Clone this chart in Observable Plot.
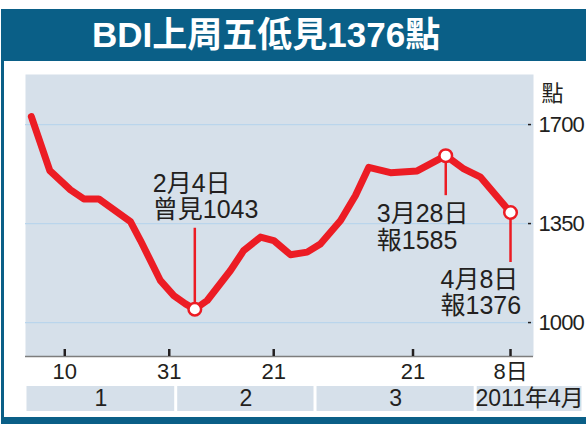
<!DOCTYPE html>
<html><head><meta charset="utf-8">
<script src="https://cdn.jsdelivr.net/npm/d3@7"></script>
<script src="https://cdn.jsdelivr.net/npm/@observablehq/plot@0.6"></script>
<style>
html,body{margin:0;padding:0;background:#fff;}
#fig{position:relative;width:586px;height:424px;overflow:hidden;background:#fff;font-family:"Liberation Sans","Noto Sans CJK TC",sans-serif;}
.bar{position:absolute;background:#0a5f87;z-index:2;}
#title{position:absolute;left:0;right:0;top:9px;height:52px;line-height:52px;padding-left:92px;color:#fff;font-weight:bold;font-size:35px;white-space:nowrap;margin:0;z-index:3;box-sizing:border-box;}
#main{position:absolute;left:0;top:61px;z-index:1;}
#months{position:absolute;left:0;top:386px;z-index:1;}
#main g[aria-label="y-axis tick label"] text{letter-spacing:-0.9px;}
</style></head><body>
<div id="fig">
  <div class="bar" style="left:1px;right:0;top:9px;height:52px;"></div>
  <div class="bar" style="left:1px;width:3px;top:9px;bottom:0;"></div>
  <div class="bar" style="left:1px;right:0;top:417px;bottom:0;"></div>
  <h1 id="title">BDI上周五低見1376點</h1>
  <div id="main"></div>
  <div id="months"></div>
</div>
<script>
// ---- data (x = trading-day index, 0 = 10 Jan 2011) ----
const lineDay   = [-4.8, -2.15, 0.82, 2.73, 4.88, 9.43, 10.87, 13.74, 15.65, 17.33, 18.67, 20.45, 23.79, 25.7, 28.1, 30.0, 32.4, 34.8, 36.7, 39.6, 41.74, 43.65, 46.77, 50.6, 54.7, 57.3, 59.7, 64];
const lineValue = [1728, 1537, 1469, 1437, 1437, 1357, 1290, 1148, 1095, 1066, 1047, 1078, 1184, 1255, 1302, 1290, 1240, 1249, 1278, 1361, 1449, 1549, 1530, 1536, 1590, 1543, 1514, 1389];

const annDay   = [18.67, 54.7, 64];
const annValue = [1047, 1590, 1389];
const annDate  = ["2月4日", "3月28日", "4月8日"];
const annText  = ["曾見1043", "報1585", "報1376"];

const xTickDay   = [0, 15, 30, 50, 64];
const xTickLabel = ["10", "31", "21", "21", "8日"];
const yTicks     = [1000, 1350, 1700];
const yUnit      = "點";

const monthName     = ["1", "2", "3", "2011年4月"];
const monthStartDay = [-4, 16, 36, 59];

// ---- layout / style ----
const RED = "#ec1c24", INK = "#231f20", BG = "#d6e0ea", GRID = "#bad5ec";
const FONT = '"Liberation Sans","Noto Sans CJK TC",sans-serif';
const xDomain = [-5.64, 67.3];
const yDomain = [880, 1877];
// per-annotation placement (pixels): text offset and leader direction/length
const annLayout = [
  {dx: -42, dy: -136.5, up: 81, down: 0},
  {dx: -69, dy: 47.5, up: 0, down: 40},
  {dx: -70, dy: 56, up: 0, down: 50}
];

const line = lineDay.map((d, i) => ({day: d, value: lineValue[i]}));
const ann = annDay.map((d, i) => ({day: d, value: annValue[i], label: annDate[i] + "\n" + annText[i]}));
const tickLabel = new Map(xTickDay.map((d, i) => [d, xTickLabel[i]]));

const annMarks = ann.map((a, i) =>
  Plot.ruleX([a], {x: "day", y1: "value", y2: "value", insetTop: annLayout[i].down, insetBottom: annLayout[i].up, stroke: RED, strokeWidth: 2.5})
);
const annTexts = ann.map((a, i) =>
  Plot.text([a], {x: "day", y: "value", text: "label", textAnchor: "start", lineAnchor: "top", lineHeight: 1.07,
    dx: annLayout[i].dx, dy: annLayout[i].dy, fontSize: 25, fill: INK})
);

const main = Plot.plot({
  width: 586, height: 323,
  marginLeft: 25, marginRight: 53, marginTop: 13, marginBottom: 28,
  style: {background: "transparent", fontFamily: FONT, color: INK, overflow: "visible"},
  x: {domain: xDomain, label: null},
  y: {domain: yDomain, label: null},
  marks: [
    Plot.frame({fill: BG, stroke: null}),
    Plot.gridY(yTicks, {stroke: GRID, strokeOpacity: 1, strokeWidth: 1.2}),
    Plot.ruleY([yDomain[0]], {stroke: "#7d7d7d", strokeWidth: 1.5}),
    Plot.tickX(xTickDay, {x: d => d, insetTop: 275, stroke: INK, strokeWidth: 2.5}),
    Plot.tickY(yTicks, {y: d => d, insetLeft: 503, insetRight: 2, stroke: INK, strokeWidth: 1.5}),
    Plot.axisX({ticks: xTickDay, tickSize: 0, tickPadding: 7, tickFormat: d => tickLabel.get(d), fontSize: 22, fill: INK}),
    Plot.axisY({anchor: "right", ticks: yTicks, tickSize: 0, tickPadding: 5, fontSize: 22, fill: INK, tickFormat: d => String(d)}),
    Plot.text([yUnit], {frameAnchor: "top-right", text: d => d, textAnchor: "start", dx: 8, dy: 11, fontSize: 22, fill: INK}),
    Plot.line(line, {x: "day", y: "value", stroke: RED, strokeWidth: 7, strokeLinejoin: "round", strokeLinecap: "round"}),
    ...annMarks,
    Plot.dot(ann, {x: "day", y: "value", r: 6.3, fill: "white", stroke: RED, strokeWidth: 2.5}),
    ...annTexts
  ]
});
document.getElementById("main").appendChild(main);

// month strip, same day->pixel mapping, extended to the right edge
const bandRight = 583, plotLeft = 25, plotRight = 533;
const bandMax = xDomain[0] + (bandRight - plotLeft) / (plotRight - plotLeft) * (xDomain[1] - xDomain[0]);
const months = monthName.map((m, i) => ({
  name: m,
  x1: i === 0 ? xDomain[0] : monthStartDay[i],
  x2: i + 1 < monthStartDay.length ? monthStartDay[i + 1] : bandMax
}));
const strip = Plot.plot({
  width: 586, height: 25,
  marginLeft: plotLeft, marginRight: 586 - bandRight, marginTop: 0, marginBottom: 0,
  style: {background: "transparent", fontFamily: FONT, color: INK},
  x: {domain: [xDomain[0], bandMax], axis: null},
  marks: [
    Plot.rect(months, {x1: "x1", x2: "x2", fill: BG, insetLeft: 1.5, insetRight: 1.5}),
    Plot.text(months, {x: d => (d.x1 + d.x2) / 2, text: "name", fontSize: 23, fill: INK})
  ]
});
document.getElementById("months").appendChild(strip);
</script>
</body></html>
